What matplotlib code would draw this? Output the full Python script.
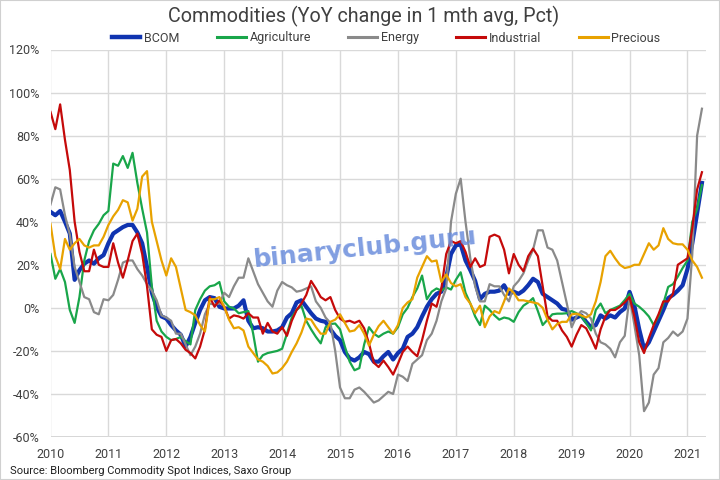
import matplotlib
matplotlib.use("Agg")
import matplotlib.pyplot as plt
import numpy as np

plt.rcParams['font.family'] = ['Roboto', 'DejaVu Sans']

# Monthly observations, Jan 2010 .. Apr 2021 (YoY %, 1-month avg)
start_year = 2010
series_names = ["BCOM", "Agriculture", "Energy", "Industrial", "Precious"]

bcom = [44.6, 43, 45, 40, 34.5, 13, 17.5, 20.5, 22, 20.5, 23, 24.5,
        30, 34.5, 36, 37.5, 38.5, 38.5, 35, 30, 19, 7, 0.5, -4,
        -5, -8, -10.5, -12.5, -18, -13.5, -7, -1, 3.5, 5, 4.5, 0.5,
        -0.3, -0.3, -0.3, 1, 3.5, -6, -9.5, -9, -9.5, -11, -11, -10.5,
        -9, -4.5, -2.5, 2.5, 3.5, 0.5, -2.5, -5, -6, -6.5, -10, -13,
        -15, -20.5, -23.5, -24.5, -23, -20.5, -21.5, -25, -25, -22.5, -20.5, -24,
        -21, -19, -13.5, -12, -9, -4, 0.5, 4, 6.5, 7.5, 14, 25,
        29, 29.5, 22, 17.5, 12.5, 4, 6.5, 7.5, 7.5, 8, 10.5, 6.5,
        7.5, 6.5, 8, 10.5, 13.5, 12, 6.5, 5, 3.5, 2, -0.5, -1,
        -5.5, -4.5, -3.5, -6.5, -9, -8, -3.5, -5, -3.5, -4.5, -2, -0.3,
        7.4, 1, -10, -19, -16, -11, -6, -1, 4.5, 6, 8, 10.5,
        18, 30, 44, 58]

agriculture = [25, 13.5, 18, 12, -1, -7, 5, 22, 31, 36, 39, 43,
               45, 67, 66, 70.5, 65, 72, 58, 46, 35, 10, -6, -11,
               -13.5, -15, -14.5, -13.5, -15.5, -17, -1, 4, 8, 10, 10.5, 12,
               3, 0.5, -0.3, -2.5, -2, -1.5, -12, -25, -22, -21, -20.5, -20,
               -19, -12, -4.5, -1, 1, -6, -10, -13.5, -16.5, -9, -7.5, -7.3,
               -10, -18, -25, -29, -28, -17, -9, -12, -13.5, -12, -11, -12,
               -9, -3, 0, 5, 9, 15, 4, 7.5, 9, 8, 9.5, 8.5,
               13, 16.5, 7, 2, -4, -8, 1, -1, -3.5, -5.5, -4.5, -5,
               -6.5, -2, 1, 2.5, 4.5, -1.5, -8, -5.5, -3, -2.7, -2.7, -2.5,
               -1.5, -2.5, -4, -7, -10.5, -1, 2, -2.5, -1, 0, 1, 3.6,
               6.5, 2, 0.5, -1.5, -4, -8, -4, 2, 9.7, 11, 14.5, 18.5,
               22, 40, 46, 57]

energy = [48, 56, 55, 43, 34, 19, 12, 5, 4, -2, -3, 4,
          3.5, 6, 13, 21, 22, 22, 18, 15, 11, 8, 3.5, -3.5,
          -4.5, -6, -12, -12, -17, -22, -18, -12, -3, 2, 1.5, 2,
          7, 5, 10, 14, 14, 23, 17, 11, 7, 3, 0.5, 8,
          12, 10.5, 9.5, 7.5, 8, 9, 10, 3, 0, -4.5, -7, -20,
          -37, -42, -42, -38, -37, -39, -41.5, -44, -43, -41, -39, -40,
          -31, -32, -34, -26, -24, -22, -15, -12, -6, 3, 9, 40,
          53, 60, 40, 23, 10, 3, 3, 11, 10, 10, 6, 3,
          10, 12.5, 16, 22, 27, 36, 36, 28, 27, 22, 12, 2,
          -9, -4, -1.5, -2.5, -5, -12, -16, -17, -19, -23, -16, -13,
          5, -8, -22, -48, -44, -31, -28, -16, -14, -11, -13, -11,
          -5, 25, 80, 92.5]

industrial = [91, 83, 94.5, 78, 64, 40, 26, 17, 17, 27, 20, 19,
              19, 30, 21, 14, 22, 31, 34.5, 25, 10, -10, -12.5, -13.5,
              -20, -15, -14.5, -16.5, -19.5, -21, -23.5, -18, -10, 5, 0.5, 3.5,
              0.5, -5, -3.5, -4, -5, -2.5, -4.5, -4.5, -12, -7, -11, -12,
              -9, -13, -6, -1, 2, 6, 12.5, 9, 5, 3.5, 5, -1,
              -5, -6.5, -6, -7, -6, -9.5, -16.5, -25.5, -27.5, -24.5, -27.5, -31,
              -26, -20.5, -18, -20.5, -22.5, -15, -6, 2, 0.5, 9, 25, 31,
              30, 31, 26, 19, 23, 19, 20, 33, 34, 33, 27, 16,
              25, 20, 17, 24, 27.5, 24, 10, -4, -6, -6, -10.5, -13.5,
              -18, -12.5, -8, -9.5, -14, -19, -10, -4, -1, -1, 0.5, 2.5,
              5, -4, -16, -21, -14, -8, -3, 3, 3, 6.5, 20, 21.5,
              23, 37, 55, 63]

precious = [39, 24, 18, 32, 27, 30, 32, 29, 28, 29, 29, 33,
            38.5, 42.5, 45.5, 50, 49, 40.5, 46, 61, 63.5, 40, 31, 22,
            15, 23, 19, 9, -1, -2, -3.5, -8, -11, 4, 4, 5,
            0.5, -5.5, -9.5, -9, -10.5, -18, -21, -24, -25, -27, -30.5, -30,
            -28, -25, -20.5, -16.5, -11.5, -5, -5.5, -9, -12, -12, -6.5, -5.5,
            -3, -7, -11, -10.5, -8, -12, -17.5, -12.5, -8.5, -6, -9, -12,
            -8, 0, 2.5, 4, 14, 19, 24, 21.5, 22, 12, 15.5, 11.5,
            10, 11, 5, 2, -2.5, 1, -9, -4, -1.5, -2.5, 3, 9,
            7, 3.5, 3.5, 3, 2.5, 2, 0, -5.5, -10, -7.5, -6.5, -6.5,
            -3, -2.7, -3.5, -4.5, -3, 3, 12, 24, 26.5, 23, 20, 18.5,
            19, 20, 20, 25, 30, 27, 29, 37, 32, 30, 29.5, 29.5,
            27, 22, 19, 14]

year_ticks = list(range(2010, 2022))
y_ticks = list(range(-60, 121, 20))

title = "Commodities (YoY change in 1 mth avg, Pct)"
source = "Source: Bloomberg Commodity Spot Indices, Saxo Group"

colors = ["#1034b0", "#19a64a", "#8a8a8a", "#c50a0a", "#e8a200"]
widths = [3.0, 1.6, 1.6, 1.6, 1.6]

fig = plt.figure(figsize=(7.2, 4.8), dpi=100)
ax = fig.add_axes([50.5 / 720, 1 - 437 / 480, (706 - 50.5) / 720, (437 - 49.5) / 480])

t = start_year + np.arange(len(bcom)) / 12.0
data = [bcom, agriculture, energy, industrial, precious]
handles = []
for name, vals, c, lw in zip(series_names, data, colors, widths):
    h, = ax.plot(t, vals, color=c, lw=lw, label=name, solid_joinstyle='round')
    handles.append(h)

ax.set_xlim(2010, 2021.32)
ax.set_ylim(-60, 120)
ax.set_xticks(year_ticks)
ax.set_xticklabels([str(y) for y in year_ticks])
ax.set_yticks(y_ticks)
ax.set_yticklabels([f"{v}%" for v in y_ticks])
ax.grid(True, color="#d9d9d9", lw=1.0)
ax.set_axisbelow(True)
for s in ax.spines.values():
    s.set_visible(False)
ax.axhline(-60, color="#d0d0d0", lw=1.2, zorder=0.5)
ax.tick_params(length=0, labelsize=9, colors="#404040", pad=8)

fig.text(364 / 720, 1 - 16 / 480, title, ha="center", va="center", fontsize=14.2, color="#404040")
leg = fig.legend(handles=handles, loc="center", bbox_to_anchor=(386 / 720, 1 - 38 / 480),
                 ncol=5, frameon=False, fontsize=9, handlelength=2.3, handletextpad=0.3,
                 columnspacing=3.0, borderaxespad=0)
for txt in leg.get_texts():
    txt.set_color("#404040")
for lh in leg.legend_handles:
    lh.set_linewidth(2.2)
leg.legend_handles[0].set_linewidth(3.2)

fig.text(10 / 720, 1 - 471 / 480, source, ha="left", va="center", fontsize=8, color="#202020")

fig.text(365 / 720, 1 - 248 / 480, "binaryclub.guru", ha="center", va="center",
         fontsize=18, fontweight="bold", color="#6a8ddc", alpha=0.85, rotation=6,
         family=["DejaVu Sans"])

fig.patches.append(plt.Rectangle((0, 0), 1, 1, transform=fig.transFigure, fill=False,
                                 edgecolor="#d0d0d0", lw=1.5))

fig.savefig("out.png", dpi=100)
